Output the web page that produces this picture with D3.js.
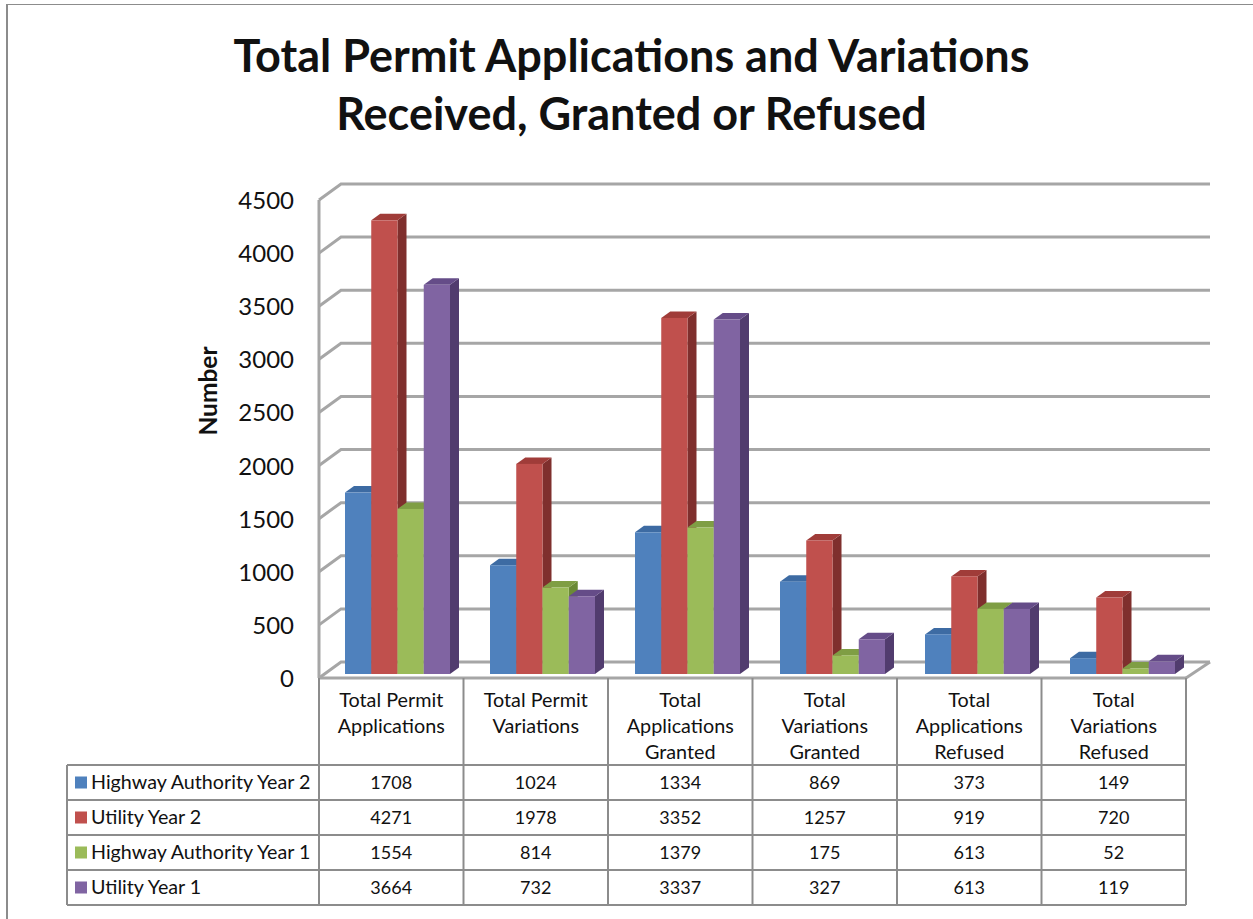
<!DOCTYPE html>
<html><head><meta charset="utf-8">
<script src="https://cdnjs.cloudflare.com/ajax/libs/d3/7.8.5/d3.min.js"></script>
<style>html,body{margin:0;background:#fff}svg{display:block}text{font-family:Lato,"Open Sans",sans-serif;fill:#111}</style>
</head><body><svg id="c" width="1253" height="919"></svg>
<script>
const titleLines = ["Total Permit Applications and Variations","Received, Granted or Refused"];
const yTitle = "Number";
const categories = [["Total Permit","Applications"],["Total Permit","Variations"],["Total","Applications","Granted"],["Total","Variations","Granted"],["Total","Applications","Refused"],["Total","Variations","Refused"]];
const seriesNames = ["Highway Authority Year 2","Utility Year 2","Highway Authority Year 1","Utility Year 1"];
const haYear2 = [1708,1024,1334,869,373,149];
const utilYear2 = [4271,1978,3352,1257,919,720];
const haYear1 = [1554,814,1379,175,613,52];
const utilYear1 = [3664,732,3337,327,613,119];
const seriesValues = [haYear2,utilYear2,haYear1,utilYear1];
const front = ["#4f81bd","#c0504d","#9bbb59","#8064a2"];
const side = ["#2f5a8e","#7f2f2d","#6b8a35","#513c6e"];
const topc = ["#3d6ba3","#a03c39","#7f9e44","#654c88"];
const ticks = d3.range(0,4501,500);
const grid = "#a6a6a6";

const svg = d3.select("#c");
svg.append("line").attr("x1",6).attr("x2",1253).attr("y1",4.5).attr("y2",4.5).attr("stroke","#8c8c8c");
svg.append("line").attr("x1",7).attr("x2",7).attr("y1",4).attr("y2",919).attr("stroke","#8c8c8c").attr("stroke-width",2);

const T = svg.append("g").attr("text-anchor","middle").attr("font-weight",700).attr("font-size",45);
titleLines.forEach((t,i)=>T.append("text").attr("x",631.5).attr("y",72+i*58).text(t));

const x = d3.scaleBand().domain(d3.range(6)).range([319,1186]);
const xBars = d3.scaleLinear().domain([0,6]).range([345,1215]);
const y = d3.scaleLinear().domain([0,4500]).range([678,200]);
const dx=22, dy=-16;
// walls and gridlines
const wall = svg.append("g").attr("fill","none").attr("stroke",grid).attr("stroke-width",3);
ticks.forEach(t=>{
  wall.append("polyline").attr("points",[[319,y(t)],[319+dx,y(t)+dy],[1210,y(t)+dy]].map(p=>p.join()).join(" "));
});
wall.append("line").attr("x1",319).attr("x2",319).attr("y1",y(4500)).attr("y2",678);
wall.append("polyline").attr("points",`1186,678 1210,${y(0)+dy}`);

// bars
const baseY = 674, bw = 26.25, ddx = 9, ddy = -6.5;
const h = v => y(0)-y(v);
const bars = svg.append("g");
categories.forEach((c,ci)=>{
  seriesValues.forEach((vals,si)=>{
    const v = vals[ci];
    const x0 = xBars(ci)+si*bw, x1 = x0+bw, yt = baseY-h(v);
    const g = bars.append("g");
    g.append("polygon").attr("fill",side[si]).attr("points",[[x1,baseY],[x1+ddx,baseY+ddy],[x1+ddx,yt+ddy],[x1,yt]].map(p=>p.join()).join(" "));
    g.append("polygon").attr("fill",topc[si]).attr("points",[[x0,yt],[x0+ddx,yt+ddy],[x1+ddx,yt+ddy],[x1,yt]].map(p=>p.join()).join(" "));
    g.append("rect").attr("x",x0).attr("y",yt).attr("width",bw).attr("height",h(v)).attr("fill",front[si]);
  });
});

// y ticks
const yt = svg.append("g").attr("text-anchor","end").attr("font-size",24);
ticks.forEach(t=>yt.append("text").attr("x",294).attr("y",y(t)+9).text(t));
svg.append("text").attr("transform","translate(217,391) rotate(-90)").attr("text-anchor","middle").attr("font-weight",700).attr("font-size",24.5).text(yTitle);

// data table
const rowY = [765,800,835,870,905];
const tb = svg.append("g").attr("fill","none").attr("stroke","#8c8c8c").attr("stroke-width",2);
tb.append("line").attr("x1",319).attr("x2",1186).attr("y1",678).attr("y2",678).attr("stroke",grid).attr("stroke-width",3);
d3.range(7).forEach(i=>{const X=319+i*x.bandwidth();tb.append("line").attr("x1",X).attr("x2",X).attr("y1",678).attr("y2",905);});
rowY.forEach(Y=>tb.append("line").attr("x1",67).attr("x2",1186).attr("y1",Y).attr("y2",Y));
tb.append("line").attr("x1",67).attr("x2",67).attr("y1",765).attr("y2",905);

categories.forEach((lines,ci)=>{
  lines.forEach((l,li)=>svg.append("text").attr("x",x(ci)+x.bandwidth()/2).attr("y",707+li*26).attr("text-anchor","middle").attr("font-size",19.8).text(l));
});
seriesNames.forEach((n,si)=>{
  const cy=(rowY[si]+rowY[si+1])/2;
  svg.append("rect").attr("x",75).attr("y",cy-6).attr("width",12).attr("height",12).attr("fill",front[si]);
  svg.append("text").attr("x",91).attr("y",cy+6).attr("font-size",19.7).text(n);
  seriesValues[si].forEach((v,ci)=>svg.append("text").attr("x",x(ci)+x.bandwidth()/2).attr("y",cy+6).attr("text-anchor","middle").attr("font-size",18).text(v));
});
</script></body></html>
